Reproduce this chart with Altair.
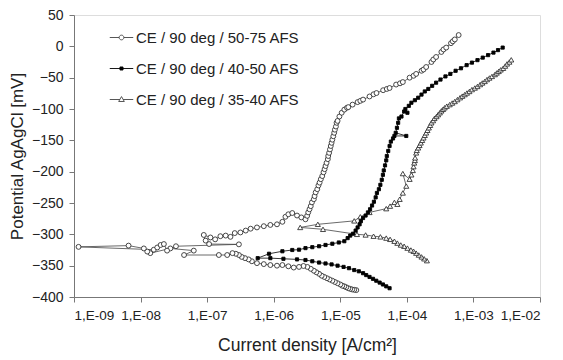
import altair as alt
import pandas as pd

series_names = ["CE / 90 deg / 50-75 AFS", "CE / 90 deg / 40-50 AFS", "CE / 90 deg / 35-40 AFS"]

# Series 1: CE / 90 deg / 50-75 AFS (open circles), scan order
s1_current = [
    1.74e-5, 1.62e-5, 1.51e-5, 1.41e-5, 1.32e-5, 1.23e-5, 1.15e-5, 1.07e-5, 1.0e-5, 9.1e-6,
    8.3e-6, 7.6e-6, 6.9e-6, 6.3e-6, 5.75e-6, 5.25e-6, 4.8e-6, 4.37e-6, 4.0e-6, 3.6e-6,
    3.2e-6, 2.8e-6, 2.4e-6, 2.0e-6, 1.66e-6, 1.35e-6, 1.12e-6, 8.9e-7, 7.1e-7, 5.6e-7,
    4.7e-7, 4.2e-7, 3.7e-7, 3.3e-7, 3.0e-7, 2.7e-7, 2.4e-7, 2.0e-7, 1.5e-7, 4.5e-8,
    6.3e-8, 2.8e-8, 1.4e-8, 1.26e-8, 1.12e-8, 6.6e-9, 1.17e-9, 1.58e-8, 1.78e-8, 2.0e-8,
    2.24e-8, 2.5e-8, 3.4e-8, 3.0e-7, 1.07e-7, 9.5e-8, 8.9e-8, 1.12e-7, 1.32e-7, 1.58e-7,
    1.9e-7, 2.24e-7, 2.6e-7, 3.16e-7, 3.8e-7, 4.5e-7, 5.6e-7, 7.1e-7, 8.9e-7, 1.12e-6,
    1.35e-6, 1.5e-6, 1.66e-6, 1.9e-6, 2.24e-6, 2.6e-6, 3.0e-6, 3.18e-6, 3.3e-6, 3.45e-6,
    3.6e-6, 3.75e-6, 4.0e-6, 4.11e-6, 4.27e-6, 4.51e-6, 4.7e-6, 4.89e-6, 5.1e-6, 5.36e-6,
    5.6e-6, 5.81e-6, 6.0e-6, 6.22e-6, 6.5e-6, 6.59e-6, 6.8e-6, 7.0e-6, 7.2e-6, 7.4e-6,
    7.6e-6, 7.85e-6, 8.1e-6, 8.3e-6, 8.6e-6, 8.8e-6, 9.1e-6, 9.7e-6, 1.05e-5, 1.15e-5,
    1.26e-5, 1.32e-5, 1.53e-5, 1.82e-5, 2.0e-5, 2.2e-5, 2.75e-5, 3.16e-5, 3.5e-5, 4.4e-5,
    5.0e-5, 5.5e-5, 6.9e-5, 7.9e-5, 8.7e-5, 1.1e-4, 1.26e-4, 1.38e-4, 1.66e-4, 1.78e-4,
    1.95e-4, 2.34e-4, 2.5e-4, 2.75e-4, 3.3e-4, 3.55e-4, 3.9e-4, 4.6e-4, 4.9e-4, 5.25e-4,
    6.0e-4,
]
s1_potential = [
    -389, -388.5, -388, -387, -386, -384.5, -383, -382, -380, -378,
    -376, -374, -372, -370, -368, -366, -363, -360.5, -358, -355,
    -352, -350.5, -352, -353, -351, -349, -350, -349, -347.5, -346,
    -343, -340, -338, -336, -333, -331, -330, -333, -333, -333,
    -326, -322.5, -330, -327.5, -322.5, -318, -320, -324.5, -321, -317,
    -315.5, -326, -319, -316, -315.5, -310, -301, -305, -308, -303,
    -302, -304, -298, -297, -294, -291, -289, -287, -285, -284,
    -280, -272, -268, -266, -270, -273, -276, -270.5, -265, -260,
    -255, -249, -244, -239, -233, -228, -222, -217.5, -212, -207,
    -201, -196, -191, -186, -180, -175, -170, -164.5, -159, -154,
    -149, -143.5, -138, -133, -128, -122, -119, -112, -106, -101,
    -98, -97, -93, -89, -87, -85, -80, -76.5, -74.5, -70,
    -68, -66.5, -61, -59, -57, -50, -47, -44, -39, -37,
    -33, -25, -21, -17, -9, -5, -2, 5, 8, 11,
    18,
]

# Series 2: CE / 90 deg / 40-50 AFS (filled squares), scan order
s2_current = [
    5.5e-5, 4.9e-5, 4.37e-5, 3.9e-5, 3.47e-5, 3.1e-5, 2.75e-5, 2.45e-5, 2.2e-5, 1.9e-5,
    1.62e-5, 1.35e-5, 1.12e-5, 9.1e-6, 7.4e-6, 6.0e-6, 4.8e-6, 3.8e-6, 3.0e-6, 2.24e-6,
    1.4e-6, 8.9e-7, 5.75e-7, 8.5e-7, 1.35e-6, 1.9e-6, 2.4e-6, 3.0e-6, 3.8e-6, 4.8e-6,
    6.0e-6, 7.6e-6, 9.5e-6, 1.15e-5, 1.29e-5, 1.41e-5, 1.55e-5, 1.7e-5, 1.82e-5, 1.95e-5,
    2.04e-5, 2.2e-5, 2.4e-5, 2.6e-5, 2.8e-5, 3.0e-5, 3.2e-5, 3.4e-5, 3.55e-5, 3.8e-5,
    4.0e-5, 4.2e-5, 4.37e-5, 4.5e-5, 4.7e-5, 4.9e-5, 5.0e-5, 5.25e-5, 5.5e-5, 5.75e-5,
    6.2e-5, 6.5e-5, 9.8e-5, 6.8e-5, 7.1e-5, 7.4e-5, 7.6e-5, 8.3e-5, 9.1e-5, 1.02e-4,
    9.5e-5, 1.07e-4, 1.17e-4, 1.32e-4, 1.48e-4, 1.66e-4, 1.86e-4, 2.1e-4, 2.4e-4, 2.75e-4,
    3.2e-4, 3.8e-4, 4.5e-4, 5.4e-4, 6.5e-4, 7.9e-4, 9.5e-4, 1.15e-3, 1.38e-3, 1.66e-3,
    2.0e-3, 2.34e-3, 2.75e-3,
]
s2_potential = [
    -386, -383, -380, -377, -374, -371, -368, -365, -362, -359,
    -357, -354, -352, -350, -348, -346.5, -345, -343, -341, -340,
    -339, -338, -338, -331, -327, -325, -324.5, -322, -320.5, -319,
    -317, -315, -313, -311, -306, -302, -299, -294, -289, -284,
    -279, -274, -270, -265, -260, -254, -248, -241, -234, -228,
    -221, -213, -205, -198, -190, -182, -175, -167, -159, -152,
    -147, -143, -143, -138, -130, -122, -115, -112, -104, -106,
    -100, -95, -90, -86, -82, -77, -72, -68, -63, -58,
    -53, -48, -44, -39, -35, -30, -26, -22, -18, -14,
    -10, -6, -2,
]

# Series 3: CE / 90 deg / 35-40 AFS (open triangles), scan order
s3_current = [
    2.0e-4, 1.82e-4, 1.66e-4, 1.51e-4, 1.38e-4, 1.26e-4, 1.15e-4, 1.02e-4, 9.1e-5, 8.1e-5,
    7.2e-5, 6.5e-5, 5.6e-5, 4.9e-5, 4.0e-5, 3.16e-5, 2.4e-5, 1.78e-5, 5.5e-6, 2.5e-6,
    4.6e-6, 1.62e-5, 2.0e-5, 2.75e-5, 4.9e-5, 5.6e-5, 6.5e-5, 7.2e-5, 7.8e-5, 8.7e-5,
    9.8e-5, 8.7e-5, 1.1e-4, 1.17e-4, 1.23e-4, 1.26e-4, 1.29e-4, 1.32e-4, 1.33e-4, 1.38e-4,
    1.41e-4, 1.48e-4, 1.55e-4, 1.62e-4, 1.7e-4, 1.78e-4, 1.86e-4, 1.95e-4, 2.04e-4, 2.14e-4,
    2.24e-4, 2.34e-4, 2.48e-4, 2.6e-4, 2.79e-4, 2.95e-4, 3.13e-4, 3.3e-4, 3.5e-4, 3.7e-4,
    3.98e-4, 4.4e-4, 4.8e-4, 5.25e-4, 5.75e-4, 6.3e-4, 6.8e-4, 7.4e-4, 8.0e-4, 8.7e-4,
    9.5e-4, 1.05e-3, 1.15e-3, 1.26e-3, 1.36e-3, 1.48e-3, 1.6e-3, 1.74e-3, 1.9e-3, 2.1e-3,
    2.24e-3, 2.4e-3, 2.57e-3, 2.8e-3, 3.0e-3, 3.2e-3, 3.47e-3, 3.7e-3,
]
s3_potential = [
    -342, -339, -336, -333, -330, -327, -325, -322, -319, -317,
    -314, -311, -308, -306, -304, -303, -301, -300, -292, -289,
    -284, -278.5, -272, -265, -259, -255, -249, -252, -244, -234,
    -223, -203, -212, -205, -198, -192, -186, -182, -178, -170,
    -166, -162, -158, -154, -150, -146, -142, -138, -134, -130,
    -126, -122, -118.5, -115, -112, -109, -106, -103, -100.5, -98,
    -95.5, -93, -90.5, -88, -85, -82, -79.5, -77, -74.5, -72,
    -69, -66.5, -64, -61, -58.5, -56, -53, -50.5, -48, -45,
    -42.5, -40, -37.5, -35, -31.5, -28, -25, -21.5,
]

x_ticks = [1e-9, 1e-8, 1e-7, 1e-6, 1e-5, 1e-4, 1e-3, 1e-2]
x_tick_labels = ["1,E-09", "1,E-08", "1,E-07", "1,E-06", "1,E-05", "1,E-04", "1,E-03", "1,E-02"]
y_ticks = [-400, -350, -300, -250, -200, -150, -100, -50, 0, 50]

FONT = "Liberation Sans"


def make_df(name, cur, pot):
    return pd.DataFrame({"series": name, "i": cur, "E": pot, "k": list(range(len(cur)))})


df1 = make_df(series_names[0], s1_current, s1_potential)
df2 = make_df(series_names[1], s2_current, s2_potential)
df3 = make_df(series_names[2], s3_current, s3_potential)
all_df = pd.concat([df1, df2, df3], ignore_index=True)

label_expr = "[" + ",".join("'%s'" % t for t in x_tick_labels) + "][round(log(datum.value)/LN10)+9]"

x_enc = alt.X(
    "i:Q",
    scale=alt.Scale(type="log", domain=[1e-9, 1e-2]),
    axis=alt.Axis(
        values=x_ticks, labelExpr=label_expr, title="Current density [A/cm²]",
        grid=False, tickSize=5, labelPadding=6, titlePadding=15,
        labelFontSize=13.5, titleFontSize=17.5, labelFont=FONT, titleFont=FONT,
        labelColor="#222", titleColor="#222", titleFontWeight="normal",
        domainColor="#777", tickColor="#777",
    ),
)
y_enc = alt.Y(
    "E:Q",
    scale=alt.Scale(domain=[-400, 50]),
    axis=alt.Axis(
        values=y_ticks, title="Potential AgAgCl [mV]",
        grid=False, tickSize=5, labelPadding=6,
        titleX=-52, titleY=141, titleAngle=270, titleAlign="center",
        titleBaseline="alphabetic",
        labelFontSize=14, titleFontSize=17, labelFont=FONT, titleFont=FONT,
        labelColor="#222", titleColor="#222", titleFontWeight="normal",
        domainColor="#777", tickColor="#777",
    ),
)


def line_layer(df, color):
    return alt.Chart(df).mark_line(strokeWidth=0.8, color=color).encode(
        x=x_enc, y=y_enc, order="k:Q"
    )


def point_layer(df, shape, fill, stroke, size):
    return alt.Chart(df).mark_point(
        shape=shape, filled=True, fill=fill, stroke=stroke, strokeWidth=0.9,
        size=size, opacity=1
    ).encode(x=x_enc, y=y_enc)


legend_paths = [
    "M-1,0L-0.2,0M0.2,0L1,0M-0.2,0A0.2,0.2,0,1,1,0.2,0A0.2,0.2,0,1,1,-0.2,0Z",
    "M-1,0L1,0M-0.13,-0.13L0.13,-0.13L0.13,0.13L-0.13,0.13Z",
    "M-1,0L-0.14,0M0.14,0L1,0M0,-0.25L0.24,0.17L-0.24,0.17Z",
]

leg = alt.Legend(
    title=None, orient="none", legendX=35, legendY=10, padding=0,
    labelFont=FONT, labelFontSize=15, labelColor="#222", labelOffset=2,
    labelLimit=400, symbolSize=552, symbolStrokeWidth=0.9, rowPadding=10,
)

legend_layer = alt.Chart(all_df).mark_point(
    filled=True, size=552, opacity=1, strokeWidth=0.9
).encode(
    shape=alt.Shape("series:N", scale=alt.Scale(domain=series_names, range=legend_paths), legend=leg),
    fill=alt.Fill("series:N", scale=alt.Scale(domain=series_names, range=["white", "black", "white"]), legend=leg),
    stroke=alt.Stroke("series:N", scale=alt.Scale(domain=series_names, range=["#444", "#000", "#444"]), legend=leg),
).transform_filter("false")

chart = alt.layer(
    line_layer(df1, "#444"),
    line_layer(df2, "#000"),
    line_layer(df3, "#444"),
    point_layer(df1, "circle", "white", "#333", 24),
    point_layer(df3, "triangle-up", "white", "#333", 26),
    point_layer(df2, "square", "black", "black", 10),
    legend_layer,
).properties(
    width=466, height=282,
    padding={"left": 66, "top": 7, "right": 12, "bottom": 63},
    autosize="none",
).configure_view(stroke="#888", strokeWidth=1).configure(background="white")

chart.save("out.html", embed_options={"renderer": "svg", "actions": False})
